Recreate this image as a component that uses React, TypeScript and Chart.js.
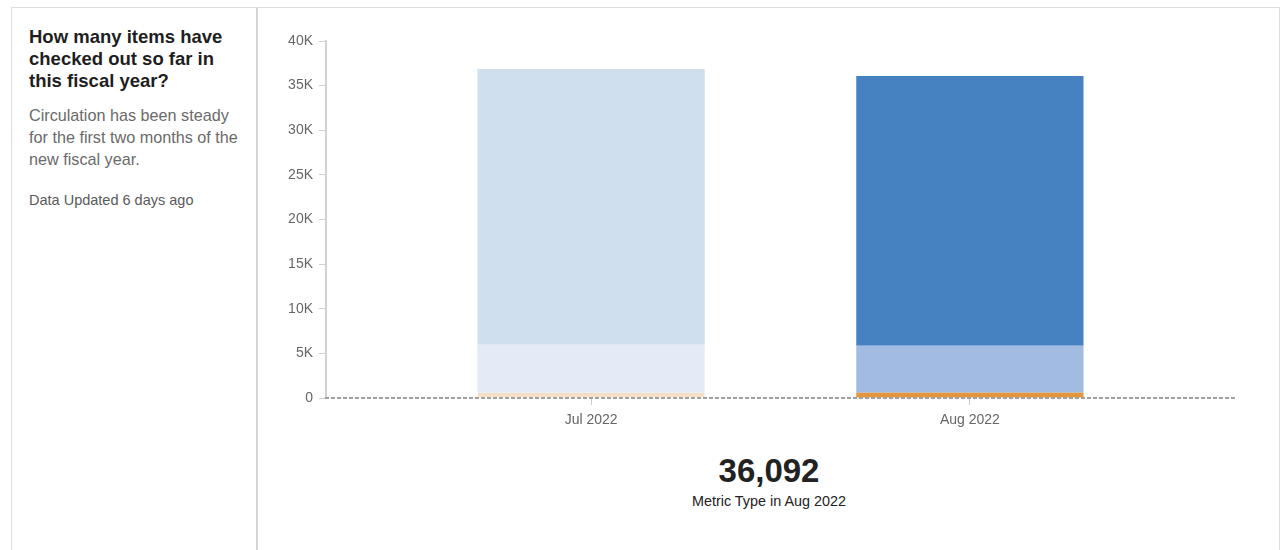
import React, { useEffect, useRef } from "react";
import { Chart, registerables } from "chart.js";

Chart.register(...registerables);

// ---- data ----
const months = ["Jul 2022", "Aug 2022"];
const otherValues = [590, 590];
const secondaryValues = [5380, 5270];
const primaryValues = [30900, 30232];
const yTicks = [0, 5000, 10000, 15000, 20000, 25000, 30000, 35000, 40000];

// faded colours for earlier month, strong colours for the highlighted month
const otherColors = ["#f8dfc5", "#e5953b"];
const secondaryColors = ["#e4ebf7", "#a2bbe3"];
const primaryColors = ["#cfdfee", "#4682c1"];

const highlightIndex = months.length - 1;
const highlightTotal =
  otherValues[highlightIndex] + secondaryValues[highlightIndex] + primaryValues[highlightIndex];

const FONT = "'Liberation Sans', Arial, Helvetica, sans-serif";

// dashed baseline at y = 0, drawn over the bars
const zeroLinePlugin = {
  id: "zeroLine",
  afterDatasetsDraw(chart: any) {
    const { ctx, chartArea, scales } = chart;
    const y = Math.round(scales.y.getPixelForValue(0));
    ctx.save();
    ctx.strokeStyle = "#a0a0a0";
    ctx.lineWidth = 2;
    ctx.setLineDash([4, 2]);
    ctx.beginPath();
    ctx.moveTo(chartArea.left - 1, y);
    ctx.lineTo(chartArea.right, y);
    ctx.stroke();
    ctx.restore();
  },
};

function ChartCanvas() {
  const ref = useRef<HTMLCanvasElement | null>(null);
  useEffect(() => {
    if (!ref.current) return;
    const toPts = (arr: number[]) => arr.map((v, i) => ({ x: i, y: v }));
    const chart = new Chart(ref.current, {
      type: "bar",
      data: {
        datasets: [
          {
            label: "Other",
            data: toPts(otherValues),
            backgroundColor: otherColors,
            borderColor: ["#efcfae", "#e5953b"],
            borderWidth: [{ top: 1, left: 0, right: 0, bottom: 0 }, 0] as any,
            borderSkipped: false,
            categoryPercentage: 1,
            barPercentage: 0.6,
          },
          {
            label: "Secondary",
            data: toPts(secondaryValues),
            backgroundColor: secondaryColors,
            borderWidth: 0,
            categoryPercentage: 1,
            barPercentage: 0.6,
          },
          {
            label: "Primary",
            data: toPts(primaryValues),
            backgroundColor: primaryColors,
            borderWidth: 0,
            categoryPercentage: 1,
            barPercentage: 0.6,
          },
        ],
      },
      options: {
        animation: false,
        responsive: false,
        layout: { padding: { top: 33, right: 45, left: 0, bottom: 0 } },
        plugins: { legend: { display: false }, tooltip: { enabled: false } },
        scales: {
          x: {
            type: "linear",
            stacked: true,
            offset: false,
            min: -0.7,
            max: 1.7,
            afterBuildTicks: (scale: any) => {
              scale.ticks = months.map((_, i) => ({ value: i }));
            },
            afterFit: (scale: any) => {
              scale.height = 40;
            },
            ticks: {
              callback: (v: any) => months[v as number] ?? "",
              color: "#666",
              font: { family: FONT, size: 14 },
              padding: 7,
              maxRotation: 0,
            },
            grid: {
              offset: false,
              drawOnChartArea: false,
              drawTicks: true,
              tickLength: 7,
              color: "#cccccc",
            },
            border: { display: false },
          },
          y: {
            stacked: true,
            min: 0,
            max: 40000,
            afterBuildTicks: (scale: any) => {
              scale.ticks = yTicks.map((v) => ({ value: v }));
            },
            afterFit: (scale: any) => {
              scale.width = 68;
            },
            ticks: {
              callback: (v: any) => (v === 0 ? "0" : `${(v as number) / 1000}K`),
              color: "#666",
              font: { family: FONT, size: 14 },
              padding: 6,
            },
            grid: {
              drawOnChartArea: false,
              drawTicks: true,
              tickLength: 7,
              color: "#cdd2d8",
            },
            border: { display: true, color: "#cdd2d8", width: 2 },
          },
        },
      },
      plugins: [zeroLinePlugin],
    });
    return () => chart.destroy();
  }, []);
  return (
    <canvas
      ref={ref}
      width={1022}
      height={430}
      style={{ position: "absolute", left: 258, top: 8, width: 1022, height: 430 }}
    />
  );
}

export default function App() {
  return (
    <div
      style={{
        position: "absolute",
        left: 0,
        top: 0,
        width: 1281,
        height: 550,
        overflow: "hidden",
        fontFamily: FONT,
        background: "#fff",
      }}
    >
      {/* outer frame */}
      <div
        style={{
          position: "absolute",
          left: 11,
          top: 7,
          width: 1267,
          height: 600,
          borderTop: "1px solid #dedede",
          borderLeft: "1px solid #dedede",
          borderRight: "1px solid #dedede",
        }}
      />
      {/* divider */}
      <div style={{ position: "absolute", left: 256, top: 8, width: 2, height: 600, background: "#d4d4d4" }} />

      {/* left panel */}
      <div
        style={{
          position: "absolute",
          left: 29,
          top: 26,
          fontSize: 18.5,
          lineHeight: "22px",
          fontWeight: "bold",
          color: "#1e1e1e",
          whiteSpace: "nowrap",
        }}
      >
        How many items have
        <br />
        checked out so far in
        <br />
        this fiscal year?
      </div>
      <div
        style={{
          position: "absolute",
          left: 29,
          top: 104,
          fontSize: 16.2,
          lineHeight: "22px",
          color: "#6a6a6a",
          whiteSpace: "nowrap",
        }}
      >
        Circulation has been steady
        <br />
        for the first two months of the
        <br />
        new fiscal year.
      </div>
      <div
        style={{
          position: "absolute",
          left: 29,
          top: 191,
          fontSize: 14.5,
          lineHeight: "18px",
          color: "#5a5a5a",
          whiteSpace: "nowrap",
        }}
      >
        Data Updated 6 days ago
      </div>

      <ChartCanvas />

      {/* headline metric */}
      <div
        style={{
          position: "absolute",
          left: 258,
          width: 1022,
          top: 454,
          textAlign: "center",
          fontSize: 33,
          lineHeight: "33px",
          fontWeight: "bold",
          color: "#222",
        }}
      >
        {highlightTotal.toLocaleString("en-US")}
      </div>
      <div
        style={{
          position: "absolute",
          left: 258,
          width: 1022,
          top: 493,
          textAlign: "center",
          fontSize: 14.4,
          lineHeight: "16px",
          color: "#222",
        }}
      >
        Metric Type in {months[highlightIndex]}
      </div>
    </div>
  );
}
